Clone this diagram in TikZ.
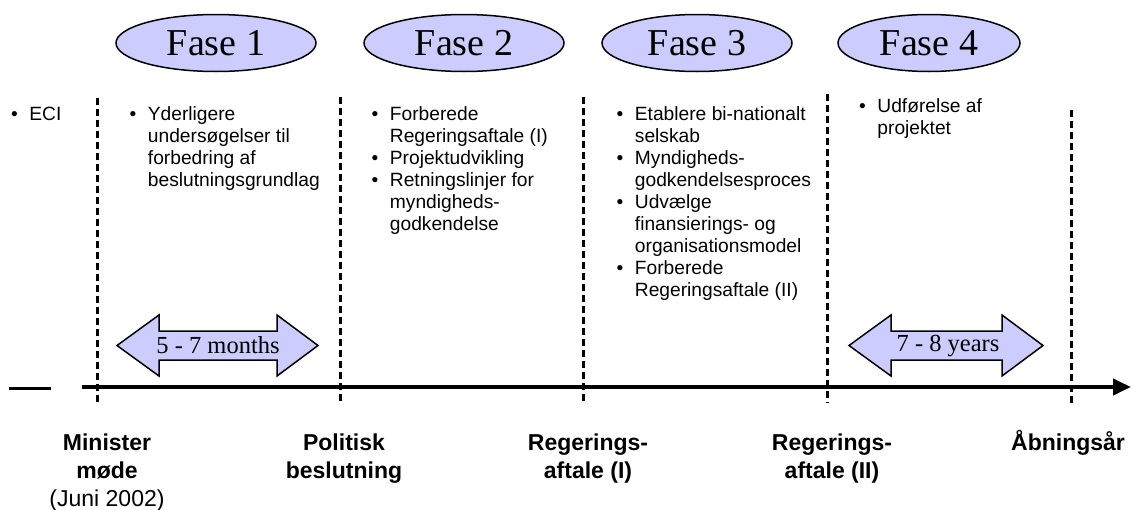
\documentclass[tikz,border=0pt]{standalone}
\usepackage{fontspec}
\setmainfont{Liberation Sans}
\newfontfamily\timesfont{Liberation Serif}
\usetikzlibrary{shapes.geometric,arrows.meta}
\definecolor{lav}{RGB}{204,204,255}
\newcommand{\blist}[1]{\begin{tabular}[t]{@{}l@{\hspace{11.5pt}}l@{}}#1\end{tabular}}
\newcommand{\mlab}[1]{\begin{tabular}[t]{@{}c@{}}#1\end{tabular}}
\begin{document}
\begin{tikzpicture}[x=1pt,y=-1pt,
  fase/.style={ellipse, draw=black, line width=1.5pt, fill=lav, minimum width=200pt, minimum height=57pt, inner sep=0pt, font=\timesfont\fontsize{38}{40}\selectfont},
  bullets/.style={anchor=base west, inner sep=0pt, font=\fontsize{19.2}{22}\selectfont},
  milestone/.style={anchor=base, inner sep=0pt, font=\bfseries\fontsize{23}{28}\selectfont},
  divider/.style={line width=3pt, dash pattern=on 7pt off 4pt},
  span/.style={draw=black, line width=1.5pt, fill=lav, line join=miter},
  spantext/.style={inner sep=0pt, font=\timesfont\fontsize{24.5}{26}\selectfont},
]
\useasboundingbox (0,0) rectangle (1134,509);

% phase ellipses
\node[fase] (f1) at (216,43) {Fase 1};
\node[fase] (f2) at (464,43) {Fase 2};
\node[fase, minimum width=190pt] (f3) at (697,43) {Fase 3};
\node[fase, minimum width=182pt] (f4) at (929,43) {Fase 4};

% dividers
\coordinate (d1t) at (97,98);  \coordinate (d1b) at (97,403);
\coordinate (d2t) at (340,97);  \coordinate (d2b) at (340,403);
\coordinate (d3t) at (583,97);  \coordinate (d3b) at (583,403);
\coordinate (d4t) at (827,94);  \coordinate (d4b) at (827,403);
\coordinate (d5t) at (1071,110); \coordinate (d5b) at (1071,403);

% timeline
\coordinate (s0) at (9,388); \coordinate (s1) at (51,388);
\draw[line width=3pt] (s0) -- (s1);
\coordinate (t0) at (82,387); \coordinate (t1) at (1131,387);
\draw[line width=4pt, -{Triangle[length=18pt,width=16pt]}] (t0) -- (t1);

\foreach \i in {1,...,5} {\draw[divider] (d\i t) -- (d\i b);}

% bullet texts
\node[bullets] (c1) at (11,120) {\blist{\textbullet & ECI}};
\node[bullets] (c2) at (129.5,120) {\blist{\textbullet & Yderligere\\ & undersøgelser til\\ & forbedring af\\ & beslutningsgrundlag}};
\node[bullets] (c3) at (371.5,120) {\blist{\textbullet & Forberede\\ & Regeringsaftale (I)\\ \textbullet & Projektudvikling\\ \textbullet & Retningslinjer for\\ & myndigheds-\\ & godkendelse}};
\node[bullets] (c4) at (616.5,120) {\blist{\textbullet & Etablere bi-nationalt\\ & selskab\\ \textbullet & Myndigheds-\\ & godkendelsesproces\\ \textbullet & Udvælge\\ & finansierings- og\\ & organisationsmodel\\ \textbullet & Forberede\\ & Regeringsaftale (II)}};
\node[bullets] (c5) at (859,112) {\blist{\textbullet & Udførelse af\\ & projektet}};

% duration arrows
\draw[span] (117,345.5) -- (159,315) -- (159,331) -- (277,331) -- (277,315) -- (318,345.5) -- (277,376) -- (277,360) -- (159,360) -- (159,376) -- cycle;
\node[spantext] (a1) at (218,345.5) {5 - 7 months};
\draw[span] (849,345.5) -- (891,315) -- (891,331) -- (1002,331) -- (1002,315) -- (1043,345.5) -- (1002,376) -- (1002,360) -- (891,360) -- (891,376) -- cycle;
\node[spantext] (a2) at (948,345.5) {7 - 8 years};

% milestone labels
\node[milestone] (m1) at (107,450) {\mlab{Minister\\ møde\\ \mdseries (Juni 2002)}};
\node[milestone] (m2) at (344,450) {\mlab{Politisk\\ beslutning}};
\node[milestone] (m3) at (588,450) {\mlab{Regerings-\\ aftale (I)}};
\node[milestone] (m4) at (832,450) {\mlab{Regerings-\\ aftale (II)}};
\node[milestone] (m5) at (1068,450) {\mlab{Åbningsår}};
\end{tikzpicture}
\end{document}
